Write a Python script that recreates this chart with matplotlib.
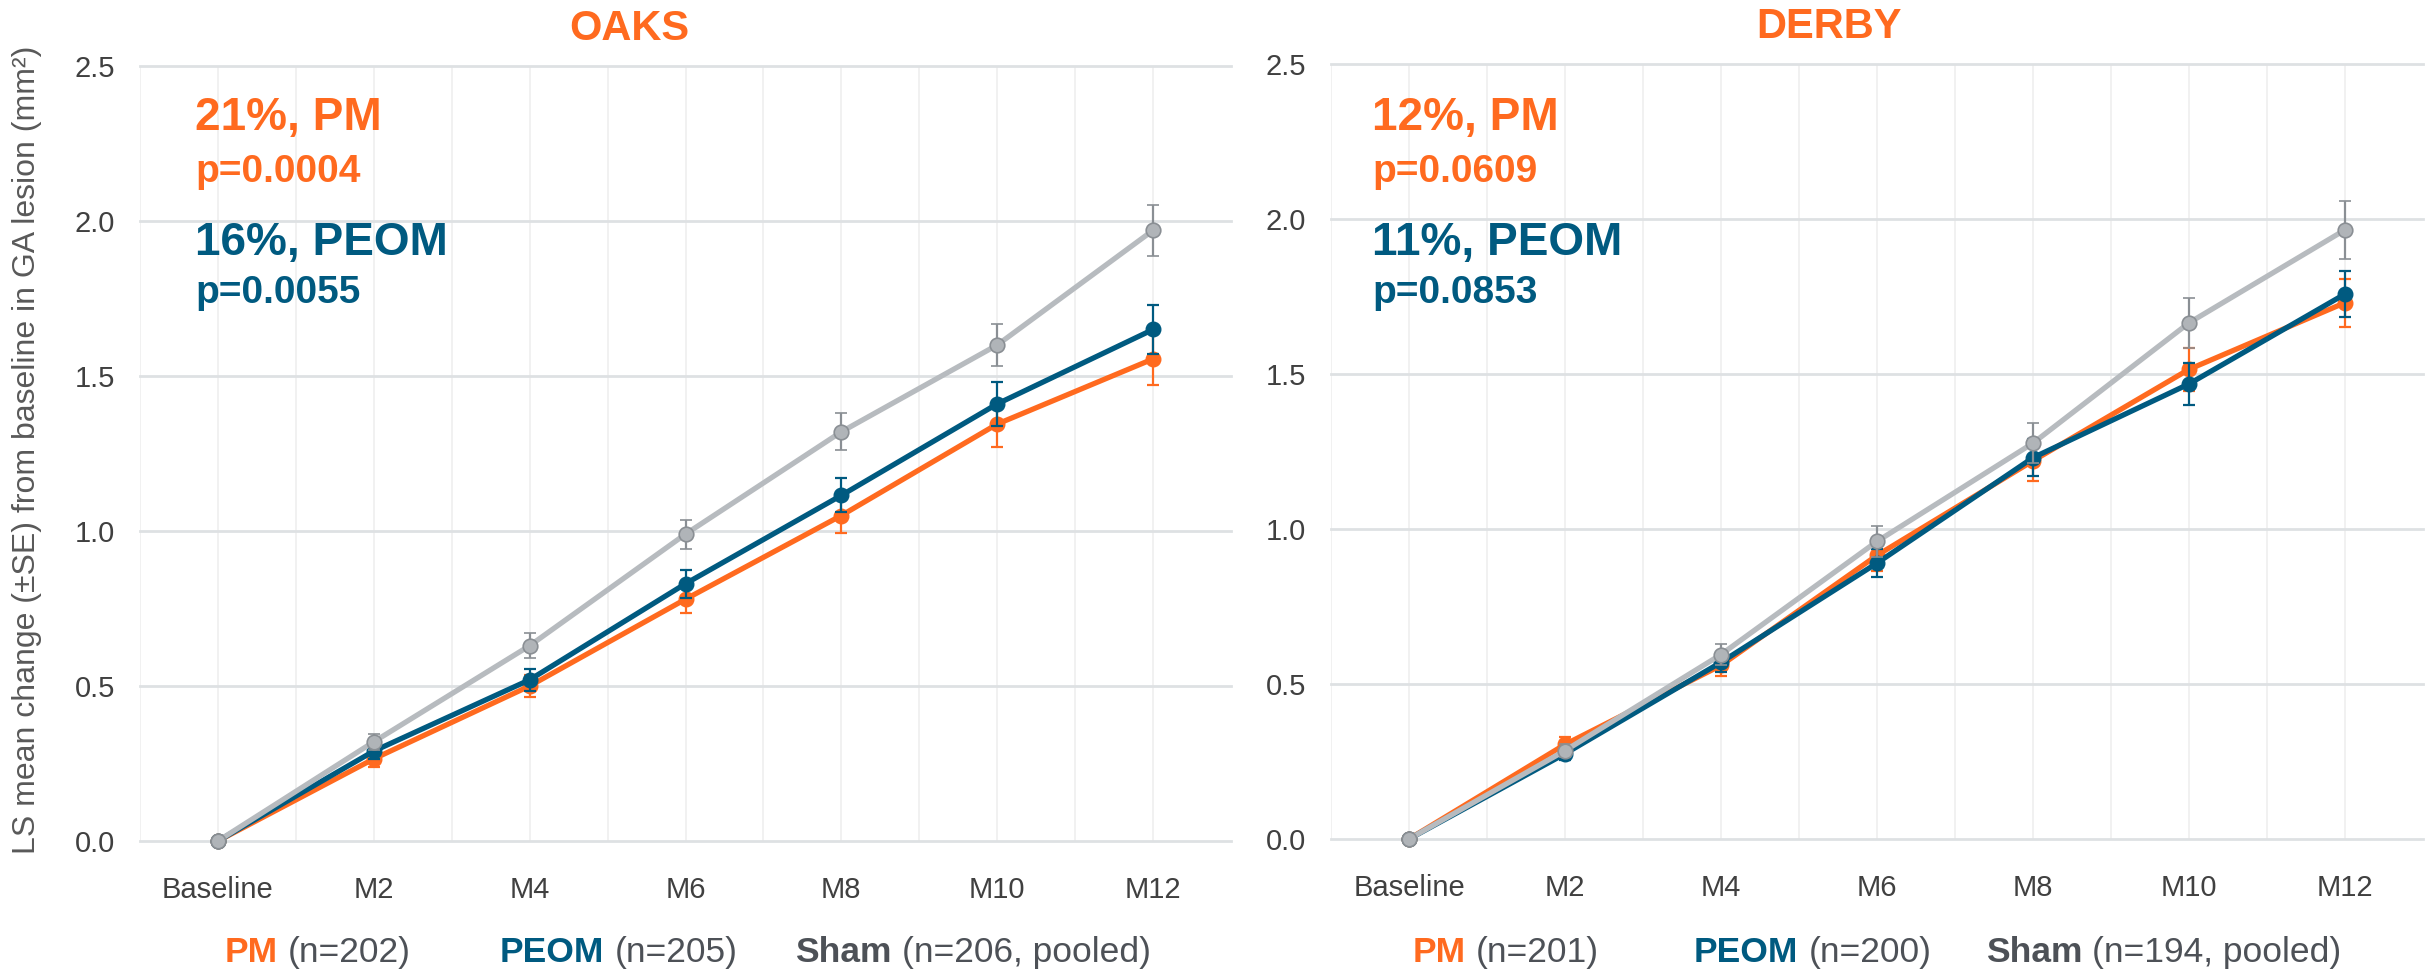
import matplotlib
matplotlib.use('Agg')
import matplotlib.pyplot as plt
from matplotlib import font_manager


def pick_font(names):
    for n in names:
        try:
            font_manager.findfont(font_manager.FontProperties(family=n), fallback_to_default=False)
            return n
        except ValueError:
            continue
    return 'DejaVu Sans'


FONT = pick_font(['Liberation Sans', 'Arial'])
plt.rcParams['font.family'] = [FONT, 'DejaVu Sans']

# Données
timepoints = ['Baseline', 'M2', 'M4', 'M6', 'M8', 'M10', 'M12']

oaks_pm = [0, 0.265, 0.50, 0.78, 1.05, 1.345, 1.555]
oaks_pm_se = [0, 0.025, 0.035, 0.045, 0.055, 0.075, 0.085]
oaks_peom = [0, 0.29, 0.52, 0.83, 1.115, 1.41, 1.65]
oaks_peom_se = [0, 0.025, 0.035, 0.045, 0.055, 0.07, 0.08]
oaks_sham = [0, 0.32, 0.63, 0.99, 1.32, 1.60, 1.97]
oaks_sham_se = [0, 0.025, 0.04, 0.047, 0.06, 0.068, 0.082]

derby_pm = [0, 0.305, 0.56, 0.915, 1.22, 1.515, 1.73]
derby_pm_se = [0, 0.025, 0.035, 0.05, 0.065, 0.07, 0.077]
derby_peom = [0, 0.275, 0.57, 0.89, 1.23, 1.468, 1.758]
derby_peom_se = [0, 0.02, 0.03, 0.045, 0.06, 0.068, 0.073]
derby_sham = [0, 0.285, 0.595, 0.96, 1.277, 1.665, 1.965]
derby_sham_se = [0, 0.02, 0.035, 0.05, 0.065, 0.08, 0.093]

oaks_stats = ['21%, PM', 'p=0.0004', '16%, PEOM', 'p=0.0055']
derby_stats = ['12%, PM', 'p=0.0609', '11%, PEOM', 'p=0.0853']
oaks_n = ['(n=202)', '(n=205)', '(n=206, pooled)']
derby_n = ['(n=201)', '(n=200)', '(n=194, pooled)']

ORANGE = '#FF6A1F'
TEAL = '#005A80'
GRAY_LINE = '#B7BBBF'
GRAY_MK = '#B0B4B8'
GRAY_ERR = '#8A8F94'
TXT = '#404040'
TXT2 = '#4D5157'

W, H = 2433, 971
fig = plt.figure(figsize=(W / 100, H / 100), dpi=100)


def fx(px):
    return px / W


def fy(py):
    return 1 - py / H


def draw_panel(ax, pm, pm_se, peom, peom_se, sham, sham_se):
    x = list(range(len(timepoints)))
    ax.errorbar(x, pm, yerr=pm_se, color=ORANGE, lw=3.8, marker='o', ms=10.5,
                ecolor=ORANGE, elinewidth=1.6, capsize=4.5, capthick=1.6,
                zorder=3, clip_on=False)
    ax.errorbar(x, peom, yerr=peom_se, color=TEAL, lw=3.8, marker='o', ms=10.5,
                ecolor=TEAL, elinewidth=1.6, capsize=4.5, capthick=1.6,
                zorder=4, clip_on=False)
    ax.errorbar(x, sham, yerr=sham_se, color=GRAY_LINE, lw=3.8, marker='o', ms=10.5,
                mfc=GRAY_MK, mec=GRAY_ERR, mew=1.2,
                ecolor=GRAY_ERR, elinewidth=1.6, capsize=4.5, capthick=1.6,
                zorder=5, clip_on=False)
    ax.set_xlim(-0.5, 6.5)
    ax.set_ylim(0, 2.5)
    ax.set_xticks(x)
    ax.set_xticklabels(timepoints)
    ax.set_yticks([0, 0.5, 1.0, 1.5, 2.0, 2.5])
    ax.set_yticklabels(['0.0', '0.5', '1.0', '1.5', '2.0', '2.5'])
    for s in ax.spines.values():
        s.set_visible(False)
    ax.tick_params(length=0, labelsize=21, labelcolor=TXT)
    ax.tick_params(axis='x', pad=25)
    ax.tick_params(axis='y', pad=18)
    for v in [0, 0.5, 1.0, 1.5, 2.0, 2.5]:
        ax.axhline(v, color='#DEE1E3', lw=2, zorder=1, clip_on=False)
    for v in [i * 0.5 - 0.5 for i in range(14)]:
        ax.axvline(v, color='#EFEFEF', lw=1.2, zorder=0)


ax1 = fig.add_axes([fx(140), fy(841), fx(1231) - fx(140), fy(66) - fy(841)])
draw_panel(ax1, oaks_pm, oaks_pm_se, oaks_peom, oaks_peom_se, oaks_sham, oaks_sham_se)
ax2 = fig.add_axes([fx(1331), fy(839), fx(2423) - fx(1331), fy(64) - fy(839)])
draw_panel(ax2, derby_pm, derby_pm_se, derby_peom, derby_peom_se, derby_sham, derby_sham_se)

fig.text(fx(27), fy(450), 'LS mean change (±SE) from baseline in GA lesion (mm²)',
         rotation=90, ha='center', va='center', fontsize=23, color='#595959')

fig.text(fx(629), fy(40), 'OAKS', ha='center', va='baseline', fontsize=30,
         fontweight='bold', color=ORANGE)
fig.text(fx(1829), fy(38), 'DERBY', ha='center', va='baseline', fontsize=30,
         fontweight='bold', color=ORANGE)

# Annotations des réductions
for x0, stats in [(195, oaks_stats), (1372, derby_stats)]:
    fig.text(fx(x0), fy(130), stats[0], fontsize=33, fontweight='bold', color=ORANGE, va='baseline')
    fig.text(fx(x0), fy(182), stats[1], fontsize=28, fontweight='bold', color=ORANGE, va='baseline')
    fig.text(fx(x0), fy(255), stats[2], fontsize=33, fontweight='bold', color=TEAL, va='baseline')
    fig.text(fx(x0), fy(303), stats[3], fontsize=28, fontweight='bold', color=TEAL, va='baseline')

# Légende en bas
fig.canvas.draw()
renderer = fig.canvas.get_renderer()


def legend_item(px, name, color, rest):
    t = fig.text(fx(px), fy(962), name, fontsize=25.5, fontweight='bold', color=color, va='baseline')
    bb = t.get_window_extent(renderer)
    fig.text(bb.x1 / W + fx(10), fy(962), rest, fontsize=25.5, color=TXT2, va='baseline')


for starts, ns in [((225, 500, 795), oaks_n), ((1413, 1694, 1986), derby_n)]:
    legend_item(starts[0], 'PM', ORANGE, ns[0])
    legend_item(starts[1], 'PEOM', TEAL, ns[1])
    legend_item(starts[2], 'Sham', TXT2, ns[2])

fig.savefig('out.png', dpi=100)
